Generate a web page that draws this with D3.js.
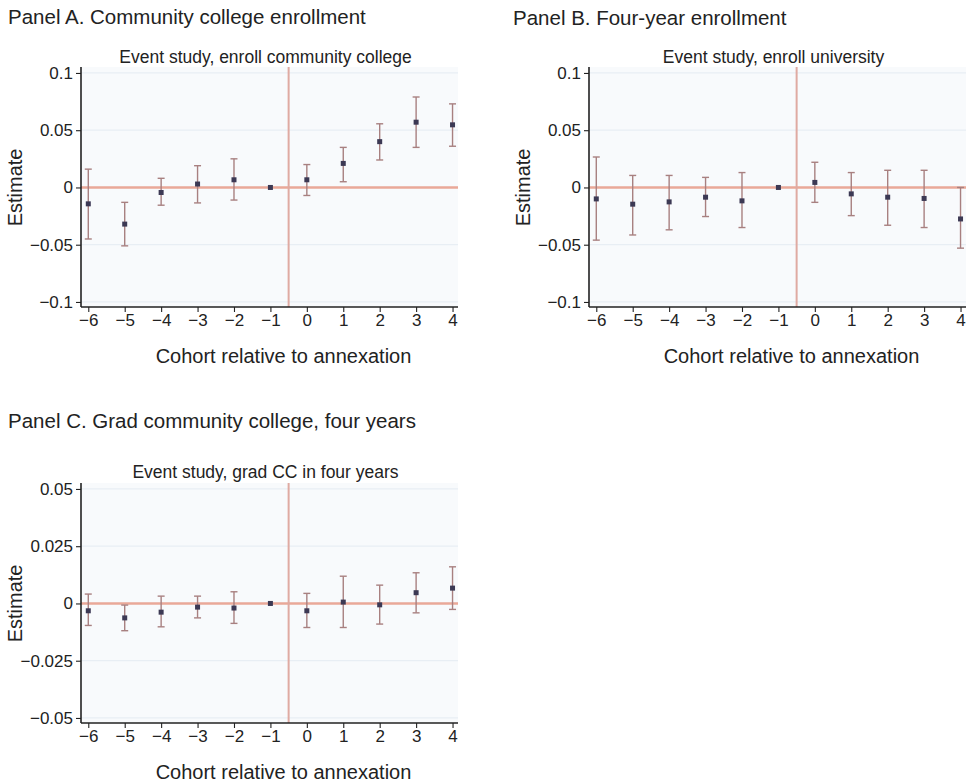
<!DOCTYPE html>
<html>
<head>
<meta charset="utf-8">
<script src="https://cdn.jsdelivr.net/npm/d3@7"></script>
<style>
  html, body { margin: 0; padding: 0; background: #ffffff; }
  svg { display: block; font-family: "Liberation Sans", Arial, Helvetica, sans-serif; }
</style>
</head>
<body>
<svg id="chart" width="967" height="783"></svg>
<script>
// ---- Data ----
const cohorts = [-6, -5, -4, -3, -2, -1, 0, 1, 2, 3, 4];

const panelTitles = [
  "Panel A. Community college enrollment",
  "Panel B. Four-year enrollment",
  "Panel C. Grad community college, four years"
];
const subTitles = [
  "Event study, enroll community college",
  "Event study, enroll university",
  "Event study, grad CC in four years"
];
const xAxisTitle = "Cohort relative to annexation";
const yAxisTitle = "Estimate";

// Panel A: enroll community college
const estA   = [-0.0143, -0.0320, -0.0044, 0.0030, 0.0067, 0.0000, 0.0067, 0.0210, 0.0400, 0.0570, 0.0547];
const upperA = [ 0.0160, -0.0130,  0.0080, 0.0190, 0.0250, 0.0000, 0.0200, 0.0350, 0.0556, 0.0790, 0.0730];
const lowerA = [-0.0450, -0.0510, -0.0155,-0.0135,-0.0110, 0.0000,-0.0070, 0.0050, 0.0240, 0.0350, 0.0360];

// Panel B: enroll university
const estB   = [-0.0100, -0.0146, -0.0126, -0.0085, -0.0117, 0.0000, 0.0044, -0.0056, -0.0085, -0.0096, -0.0275];
const upperB = [ 0.0266,  0.0105,  0.0105,  0.0088,  0.0130, 0.0000, 0.0220,  0.0130,  0.0150,  0.0150,  0.0000];
const lowerB = [-0.0460, -0.0415, -0.0370, -0.0254, -0.0350, 0.0000,-0.0130, -0.0246, -0.0330, -0.0350, -0.0530];

// Panel C: graduate CC in four years
const estC   = [-0.0032, -0.0063, -0.0038, -0.0016, -0.0020, 0.0000, -0.0032, 0.0006, -0.0006, 0.0047, 0.0067];
const upperC = [ 0.0041, -0.0007,  0.0032,  0.0032,  0.0051, 0.0000,  0.0044, 0.0119,  0.0080, 0.0134, 0.0160];
const lowerC = [-0.0096, -0.0119, -0.0102, -0.0063, -0.0087, 0.0000, -0.0105,-0.0105, -0.0090,-0.0041,-0.0026];

const yTicksAB = [-0.1, -0.05, 0, 0.05, 0.1];
const yTicksC  = [-0.05, -0.025, 0, 0.025, 0.05];
const annexationLine = -0.5;

// ---- Drawing ----
const svg = d3.select("#chart");
const fmt = v => (v === 0 ? "0" : (v < 0 ? "\u2212" + String(Math.abs(v)) : String(v)));

function drawPanel(cfg) {
  const { left, right, top, bottom, yDomain, yTicks, est, upper, lower,
          title, titleX, titleY, sub, subY } = cfg;

  const x = d3.scaleLinear().domain([-6.2, 4.15]).range([left, right]);
  const y = d3.scaleLinear().domain(yDomain).range([bottom, top]);

  const g = svg.append("g");

  // panel title
  g.append("text")
    .attr("x", titleX).attr("y", titleY)
    .attr("font-size", 20.5).attr("fill", "#222")
    .text(title);

  // sub title
  g.append("text")
    .attr("x", (left + right) / 2 - 4).attr("y", subY)
    .attr("text-anchor", "middle")
    .attr("font-size", 17.5).attr("fill", "#222")
    .text(sub);

  // plot background
  g.append("rect")
    .attr("x", left).attr("y", top)
    .attr("width", right - left).attr("height", bottom - top)
    .attr("fill", "#f8fafc");

  // faint grid
  g.selectAll("line.grid").data(yTicks).enter().append("line")
    .attr("x1", left).attr("x2", right)
    .attr("y1", d => y(d)).attr("y2", d => y(d))
    .attr("stroke", "#e8eef4").attr("stroke-width", 1.2);

  // reference lines
  g.append("line")
    .attr("x1", left).attr("x2", right)
    .attr("y1", y(0)).attr("y2", y(0))
    .attr("stroke", "#eaa898").attr("stroke-width", 2.5);
  g.append("line")
    .attr("x1", x(annexationLine)).attr("x2", x(annexationLine))
    .attr("y1", top).attr("y2", bottom)
    .attr("stroke", "#dfaaa2").attr("stroke-width", 2);

  // error bars
  const data = cohorts.map((c, i) => ({ c, e: est[i], u: upper[i], l: lower[i] }));
  const bars = g.selectAll("g.bar").data(data.filter(d => d.u !== d.l)).enter().append("g");
  const barColor = "#a88080";
  bars.append("line")
    .attr("x1", d => x(d.c)).attr("x2", d => x(d.c))
    .attr("y1", d => y(d.u)).attr("y2", d => y(d.l))
    .attr("stroke", barColor).attr("stroke-width", 1.4);
  bars.append("line")
    .attr("x1", d => x(d.c) - 3.5).attr("x2", d => x(d.c) + 3.5)
    .attr("y1", d => y(d.u)).attr("y2", d => y(d.u))
    .attr("stroke", barColor).attr("stroke-width", 1.4);
  bars.append("line")
    .attr("x1", d => x(d.c) - 3.5).attr("x2", d => x(d.c) + 3.5)
    .attr("y1", d => y(d.l)).attr("y2", d => y(d.l))
    .attr("stroke", barColor).attr("stroke-width", 1.4);

  // point estimates
  g.selectAll("rect.pt").data(data).enter().append("rect")
    .attr("x", d => x(d.c) - 2.5).attr("y", d => y(d.e) - 2.5)
    .attr("width", 5).attr("height", 5)
    .attr("fill", "#3c3954");

  // axes
  const yAxis = d3.axisLeft(y).tickValues(yTicks).tickFormat(fmt).tickSize(5).tickPadding(3);
  const ya = g.append("g").attr("transform", `translate(${left},0)`).call(yAxis);
  const xAxis = d3.axisBottom(x).tickValues(cohorts).tickFormat(fmt).tickSize(5).tickPadding(2);
  const xa = g.append("g").attr("transform", `translate(0,${bottom})`).call(xAxis);
  [ya, xa].forEach(a => {
    a.select(".domain").attr("stroke", "#222").attr("stroke-width", 1.6);
    a.selectAll(".tick line").attr("stroke", "#222").attr("stroke-width", 1.1);
    a.selectAll(".tick text").attr("font-size", 17).attr("fill", "#222")
      .attr("font-family", "'Liberation Sans', Arial, sans-serif");
  });
  ya.select(".domain").attr("d", `M0,${bottom}V${top}`);
  xa.select(".domain").attr("d", `M${left},0H${right}`);

  // axis titles
  g.append("text")
    .attr("x", (left + right) / 2 + 14).attr("y", bottom + 56)
    .attr("text-anchor", "middle")
    .attr("font-size", 20).attr("fill", "#222")
    .text(xAxisTitle);
  g.append("text")
    .attr("transform", `translate(${left - 59},${y(0)}) rotate(-90)`)
    .attr("text-anchor", "middle")
    .attr("font-size", 20).attr("fill", "#222")
    .text(yAxisTitle);
}

drawPanel({
  left: 81, right: 458, top: 67, bottom: 307,
  yDomain: [-0.1044, 0.1052], yTicks: yTicksAB,
  est: estA, upper: upperA, lower: lowerA,
  title: panelTitles[0], titleX: 8, titleY: 24,
  sub: subTitles[0], subY: 63
});
drawPanel({
  left: 589, right: 966, top: 67, bottom: 307,
  yDomain: [-0.1044, 0.1052], yTicks: yTicksAB,
  est: estB, upper: upperB, lower: lowerB,
  title: panelTitles[1], titleX: 513, titleY: 25,
  sub: subTitles[1], subY: 63
});
drawPanel({
  left: 81, right: 458, top: 483, bottom: 723,
  yDomain: [-0.0522, 0.0526], yTicks: yTicksC,
  est: estC, upper: upperC, lower: lowerC,
  title: panelTitles[2], titleX: 8, titleY: 428,
  sub: subTitles[2], subY: 478
});
</script>
</body>
</html>
